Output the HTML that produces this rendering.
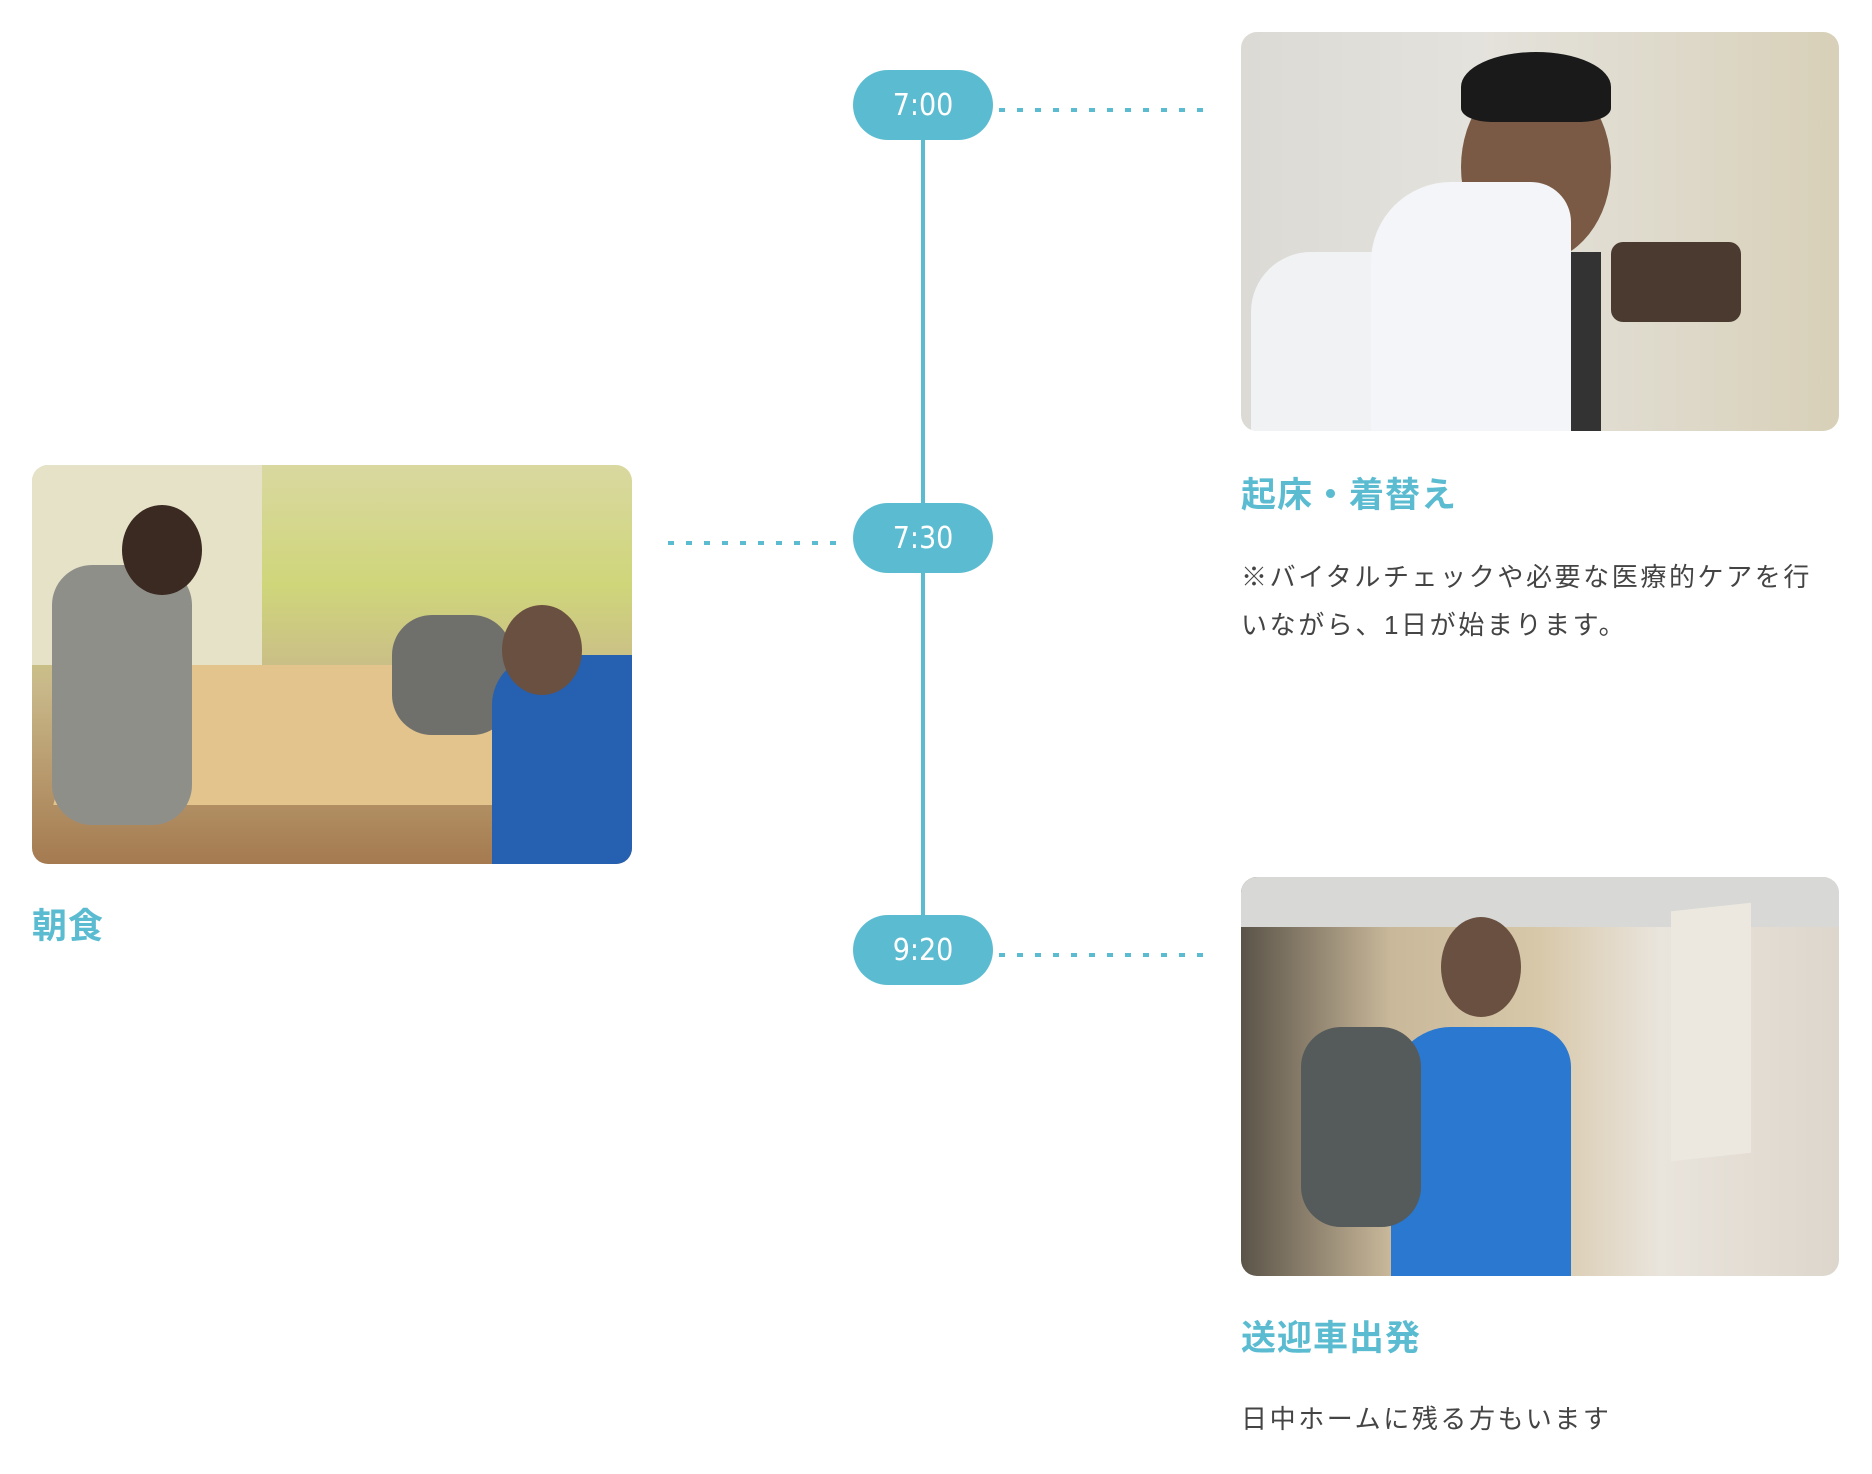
<!DOCTYPE html>
<html><head><meta charset="utf-8"><style>
*{margin:0;padding:0;box-sizing:border-box}
body{width:1872px;height:1474px;background:#fff;position:relative;overflow:hidden;font-family:"Liberation Sans","Noto Sans CJK JP",sans-serif}
.a{position:absolute}
.pill{position:absolute;width:140px;height:70px;border-radius:35px;background:#5bbcd1;color:#fff;font-size:30px;display:flex;align-items:center;justify-content:center;font-family:"DejaVu Sans Condensed","Liberation Sans",sans-serif}
.dot{position:absolute;height:4px;background:repeating-linear-gradient(90deg,#5bbcd1 0 6px,transparent 6px 18px)}
.ph{position:absolute;border-radius:16px;overflow:hidden}
.t{position:absolute;color:#5bbcd1;font-size:35px;font-weight:bold;letter-spacing:1px}
.b{position:absolute;color:#444;font-size:26px;letter-spacing:2.6px;line-height:48px}
</style></head><body>
<div class="a" style="left:921px;top:105px;width:4px;height:850px;background:#5bbcd1"></div>
<div class="pill" style="left:853px;top:70px">7:00</div>
<div class="pill" style="left:853px;top:503px">7:30</div>
<div class="pill" style="left:853px;top:915px">9:20</div>
<div class="dot" style="left:999px;top:108px;width:211px"></div>
<div class="dot" style="left:668px;top:541px;width:171px"></div>
<div class="dot" style="left:999px;top:953px;width:211px"></div>

<div class="ph" style="left:1241px;top:32px;width:598px;height:399px;background:linear-gradient(90deg,#dcdad5 0%,#e4e2dc 40%,#ddd8c8 75%,#d8d0b8 100%)">
 <div class="a" style="left:10px;top:220px;width:340px;height:190px;background:#f1f2f4;border-radius:60px 80px 0 0"></div>
 <div class="a" style="left:220px;top:40px;width:150px;height:190px;background:#7a5a44;border-radius:50%"></div>
 <div class="a" style="left:220px;top:20px;width:150px;height:70px;background:#1a1a1a;border-radius:50% 50% 20% 20%"></div>
 <div class="a" style="left:300px;top:220px;width:60px;height:180px;background:#333;"></div>
 <div class="a" style="left:370px;top:210px;width:130px;height:80px;background:#4a3a30;border-radius:12px"></div>
 <div class="a" style="left:130px;top:150px;width:200px;height:251px;background:#f4f5f8;border-radius:80px 40px 0 0"></div>
</div>

<div class="ph" style="left:32px;top:465px;width:600px;height:399px;background:linear-gradient(180deg,#d9d8a0 0%,#cfd67a 30%,#c9b98a 55%,#a57a50 100%)">
 <div class="a" style="left:0;top:0;width:230px;height:200px;background:#e6e2c8"></div>
 <div class="a" style="left:40px;top:200px;width:460px;height:140px;background:#e2c48c;transform:skewX(-15deg)"></div>
 <div class="a" style="left:20px;top:100px;width:140px;height:260px;background:#8f8f8a;border-radius:40px"></div>
 <div class="a" style="left:90px;top:40px;width:80px;height:90px;background:#3a2a22;border-radius:50%"></div>
 <div class="a" style="left:360px;top:150px;width:120px;height:120px;background:#6f6f6c;border-radius:40px"></div>
 <div class="a" style="left:460px;top:190px;width:150px;height:211px;background:#2660b0;border-radius:50px 0 0 0"></div>
 <div class="a" style="left:470px;top:140px;width:80px;height:90px;background:#6a5040;border-radius:50%"></div>
</div>

<div class="ph" style="left:1241px;top:877px;width:598px;height:399px;background:linear-gradient(90deg,#5a5348 0%,#c9b89a 25%,#d8c8aa 50%,#e9e4dc 70%,#ddd6cc 100%)">
 <div class="a" style="left:0;top:0;width:601px;height:50px;background:#d8d8d6"></div>
 <div class="a" style="left:430px;top:30px;width:80px;height:250px;background:#ece8e0;transform:skewY(-6deg)"></div>
 <div class="a" style="left:150px;top:150px;width:180px;height:251px;background:#2a78d0;border-radius:60px 40px 0 0"></div>
 <div class="a" style="left:60px;top:150px;width:120px;height:200px;background:#555a5a;border-radius:40px"></div>
 <div class="a" style="left:200px;top:40px;width:80px;height:100px;background:#6a5040;border-radius:50%"></div>
</div>

<div class="t" style="left:1241px;top:467px">起床・着替え</div>
<div class="b" style="left:1241px;top:553px;width:620px">※バイタルチェックや必要な医療的ケアを行<br>いながら、1日が始まります。</div>
<div class="t" style="left:32px;top:898px">朝食</div>
<div class="t" style="left:1241px;top:1310px">送迎車出発</div>
<div class="b" style="left:1241px;top:1395px">日中ホームに残る方もいます</div>
</body></html>
